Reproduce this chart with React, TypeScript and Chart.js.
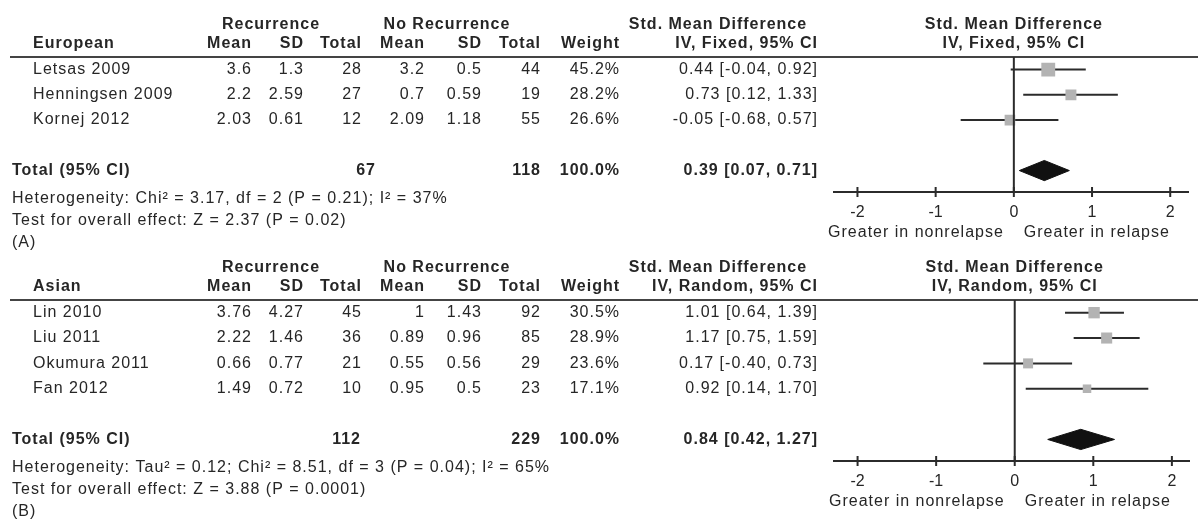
import React, { useEffect, useRef } from 'react';
import { Chart, registerables } from 'chart.js';

Chart.register(...registerables);

// ---------- Data: panel A (European) ----------
const studiesA = ['Letsas 2009', 'Henningsen 2009', 'Kornej 2012'];
const recMeanA = [3.6, 2.2, 2.03];
const recSdA = [1.3, 2.59, 0.61];
const recNA = [28, 27, 12];
const noMeanA = [3.2, 0.7, 2.09];
const noSdA = [0.5, 0.59, 1.18];
const noNA = [44, 19, 55];
const weightA = [45.2, 28.2, 26.6];
const smdA = [0.44, 0.73, -0.05];
const loA = [-0.04, 0.12, -0.68];
const hiA = [0.92, 1.33, 0.57];
const totalNA = [67, 118];
const totalSmdA = [0.39, 0.07, 0.71]; // estimate, lower, upper

// ---------- Data: panel B (Asian) ----------
const studiesB = ['Lin 2010', 'Liu 2011', 'Okumura 2011', 'Fan 2012'];
const recMeanB = [3.76, 2.22, 0.66, 1.49];
const recSdB = [4.27, 1.46, 0.77, 0.72];
const recNB = [45, 36, 21, 10];
const noMeanB = [1, 0.89, 0.55, 0.95];
const noSdB = [1.43, 0.96, 0.56, 0.5];
const noNB = [92, 85, 29, 23];
const weightB = [30.5, 28.9, 23.6, 17.1];
const smdB = [1.01, 1.17, 0.17, 0.92];
const loB = [0.64, 0.75, -0.4, 0.14];
const hiB = [1.39, 1.59, 0.73, 1.7];
const totalNB = [112, 229];
const totalSmdB = [0.84, 0.42, 1.27];

const tickValues = [-2, -1, 0, 1, 2];
const xMin = -2.3;
const xMax = 2.23;

// ---------- Layout / style constants ----------
const W = 1198;
const TEXT = '#262626';
const LINE = '#2b2b2b';
const SQUARE = '#b3b3b3';
const FAMILY = '"Liberation Sans", Arial, sans-serif';
const colRight = [252, 304, 362, 425, 482, 541, 620, 818];

type PanelProps = {
  top: number;
  height: number;
  group: string;
  method: string;
  studies: string[];
  recMean: number[];
  recSd: number[];
  recN: number[];
  noMean: number[];
  noSd: number[];
  noN: number[];
  weight: number[];
  smd: number[];
  lo: number[];
  hi: number[];
  totalN: number[];
  totalSmd: number[];
  totalNRight: number;
  het: string;
  test: string;
  label: string;
};

const fmt = (v: number) => v.toFixed(2);

function Panel(p: PanelProps) {
  const ref = useRef<HTMLCanvasElement>(null);

  useEffect(() => {
    if (!ref.current) return;
    const n = p.studies.length;
    const totalRow = n + 1;
    const yMin = -0.5;
    const yMax = totalRow + 0.85;
    const dh = 0.4;
    const [est, tlo, thi] = p.totalSmd;

    const datasets: any[] = [];
    datasets.push({
      type: 'scatter',
      data: p.smd.map((v, i) => ({ x: v, y: i })),
      pointStyle: 'rect',
      pointRadius: p.weight.map((w) => (2.06 * Math.sqrt(w)) / Math.SQRT2),
      backgroundColor: SQUARE,
      borderWidth: 0,
    });
    datasets.push({
      type: 'line',
      data: [
        { x: tlo, y: totalRow },
        { x: est, y: totalRow - dh },
        { x: thi, y: totalRow },
        { x: est, y: totalRow + dh },
        { x: tlo, y: totalRow },
      ],
      fill: 'shape',
      backgroundColor: '#111111',
      borderColor: '#111111',
      borderWidth: 1,
      pointRadius: 0,
      tension: 0,
    });
    p.studies.forEach((_, i) => {
      datasets.push({
        type: 'line',
        data: [
          { x: p.lo[i], y: i },
          { x: p.hi[i], y: i },
        ],
        borderColor: LINE,
        borderWidth: 2,
        pointRadius: 0,
        fill: false,
      });
    });

    const textPlugin = {
      id: 'forestText',
      afterDraw(chart: any) {
        const ctx = chart.ctx as CanvasRenderingContext2D;
        const area = chart.chartArea;
        const xs = chart.scales.x;
        const ys = chart.scales.y;
        const x0 = xs.getPixelForValue(0);
        ctx.save();
        // header rule
        ctx.strokeStyle = '#444';
        ctx.lineWidth = 2;
        ctx.beginPath();
        ctx.moveTo(10, area.top);
        ctx.lineTo(W, area.top);
        ctx.stroke();
        // zero line
        ctx.strokeStyle = LINE;
        ctx.beginPath();
        ctx.moveTo(x0, area.top);
        ctx.lineTo(x0, area.bottom);
        ctx.stroke();
        // tick marks crossing the axis
        tickValues.forEach((t) => {
          const px = xs.getPixelForValue(t);
          ctx.beginPath();
          ctx.moveTo(px, area.bottom - 5);
          ctx.lineTo(px, area.bottom + 5);
          ctx.stroke();
        });

        (ctx as any).letterSpacing = '1px';
        ctx.fillStyle = TEXT;
        ctx.textBaseline = 'middle';
        const put = (t: string, x: number, y: number, align: CanvasTextAlign, bold = false) => {
          ctx.font = `${bold ? 'bold ' : ''}16px ${FAMILY}`;
          ctx.textAlign = align;
          ctx.fillText(t, x, y);
        };

        const h1 = area.top - 32;
        const h2 = area.top - 13;
        put('Recurrence', 271, h1, 'center', true);
        put('No Recurrence', 447, h1, 'center', true);
        put('Std. Mean Difference', 718, h1, 'center', true);
        put('Std. Mean Difference', x0, h1, 'center', true);
        put(p.group, 33, h2, 'left', true);
        const heads = ['Mean', 'SD', 'Total', 'Mean', 'SD', 'Total', 'Weight', p.method];
        heads.forEach((h, i) => put(h, colRight[i], h2, 'right', true));
        put(p.method, x0, h2, 'center', true);

        p.studies.forEach((s, i) => {
          const y = ys.getPixelForValue(i);
          put(s, 33, y, 'left');
          const vals = [
            String(p.recMean[i]),
            String(p.recSd[i]),
            String(p.recN[i]),
            String(p.noMean[i]),
            String(p.noSd[i]),
            String(p.noN[i]),
            p.weight[i].toFixed(1) + '%',
            `${fmt(p.smd[i])} [${fmt(p.lo[i])}, ${fmt(p.hi[i])}]`,
          ];
          vals.forEach((v, j) => put(v, colRight[j], y, 'right'));
        });

        const ty = ys.getPixelForValue(totalRow);
        put('Total (95% CI)', 12, ty, 'left', true);
        put(String(p.totalN[0]), p.totalNRight, ty, 'right', true);
        put(String(p.totalN[1]), colRight[5], ty, 'right', true);
        put('100.0%', colRight[6], ty, 'right', true);
        put(`${fmt(est)} [${fmt(tlo)}, ${fmt(thi)}]`, colRight[7], ty, 'right', true);
        put(p.het, 12, ty + 28, 'left');
        put(p.test, 12, ty + 50, 'left');
        put(p.label, 12, ty + 72, 'left');

        put('Greater in nonrelapse', x0 - 10, area.bottom + 41, 'right');
        put('Greater in relapse', x0 + 10, area.bottom + 41, 'left');
        ctx.restore();
      },
    };

    const chart = new Chart(ref.current, {
      type: 'scatter',
      data: { datasets },
      options: {
        animation: false,
        responsive: false,
        devicePixelRatio: 1,
        layout: { padding: { left: 834, right: 1, top: 57, bottom: 0 } },
        plugins: { legend: { display: false }, tooltip: { enabled: false } },
        scales: {
          x: {
            type: 'linear',
            min: xMin,
            max: xMax,
            grid: { display: false },
            border: { display: true, color: LINE, width: 2 },
            afterBuildTicks: (scale: any) => {
              scale.ticks = tickValues.map((v) => ({ value: v }));
            },
            afterFit: (scale: any) => {
              scale.height = 58;
            },
            ticks: {
              color: TEXT,
              padding: 3,
              font: { family: FAMILY, size: 16 },
              callback: (v: any) => String(v),
            },
          },
          y: {
            type: 'linear',
            display: false,
            reverse: true,
            min: yMin,
            max: yMax,
          },
        },
      } as any,
      plugins: [textPlugin],
    } as any);
    return () => chart.destroy();
  }, []);

  return (
    <canvas
      ref={ref}
      width={W}
      height={p.height}
      style={{ position: 'absolute', left: 0, top: p.top, width: W, height: p.height }}
    />
  );
}

export default function App() {
  return (
    <div style={{ position: 'absolute', left: 0, top: 0, width: W, height: 531, background: '#fff', overflow: 'hidden' }}>
      <Panel
        top={0}
        height={250}
        group="European"
        method="IV, Fixed, 95% CI"
        studies={studiesA}
        recMean={recMeanA}
        recSd={recSdA}
        recN={recNA}
        noMean={noMeanA}
        noSd={noSdA}
        noN={noNA}
        weight={weightA}
        smd={smdA}
        lo={loA}
        hi={hiA}
        totalN={totalNA}
        totalSmd={totalSmdA}
        totalNRight={376}
        het="Heterogeneity: Chi² = 3.17, df = 2 (P = 0.21); I² = 37%"
        test="Test for overall effect: Z = 2.37 (P = 0.02)"
        label="(A)"
      />
      <Panel
        top={243}
        height={276}
        group="Asian"
        method="IV, Random, 95% CI"
        studies={studiesB}
        recMean={recMeanB}
        recSd={recSdB}
        recN={recNB}
        noMean={noMeanB}
        noSd={noSdB}
        noN={noNB}
        weight={weightB}
        smd={smdB}
        lo={loB}
        hi={hiB}
        totalN={totalNB}
        totalSmd={totalSmdB}
        totalNRight={361}
        het="Heterogeneity: Tau² = 0.12; Chi² = 8.51, df = 3 (P = 0.04); I² = 65%"
        test="Test for overall effect: Z = 3.88 (P = 0.0001)"
        label="(B)"
      />
    </div>
  );
}
